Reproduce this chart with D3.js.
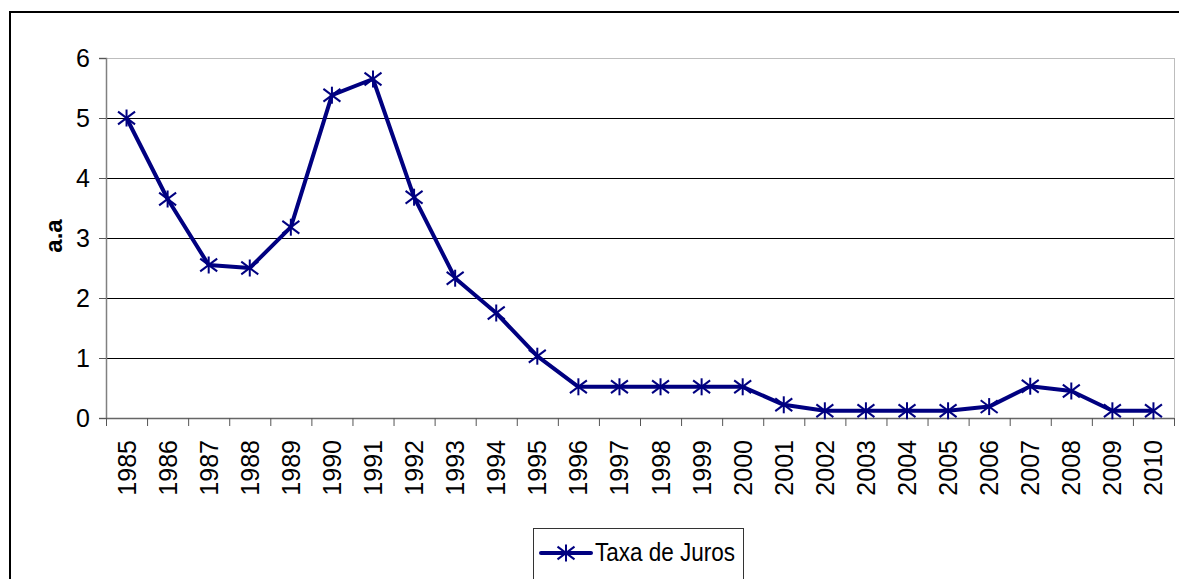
<!DOCTYPE html>
<html>
<head>
<meta charset="utf-8">
<script src="https://cdn.jsdelivr.net/npm/d3@7"></script>
<style>
  body { margin: 0; background: #fff; }
  svg { display: block; font-family: Arial, "Liberation Sans", sans-serif; }
</style>
</head>
<body>
<div id="chart"></div>
<script>
// data
const years = ["1985","1986","1987","1988","1989","1990","1991","1992","1993","1994","1995","1996","1997",
  "1998","1999","2000","2001","2002","2003","2004","2005","2006","2007","2008","2009","2010"];
const taxaJuros = [5.0, 3.65, 2.55, 2.5, 3.18, 5.38, 5.65, 3.68, 2.33, 1.75, 1.03, 0.52, 0.52,
  0.52, 0.52, 0.52, 0.22, 0.12, 0.12, 0.12, 0.12, 0.19, 0.53, 0.45, 0.12, 0.12];
const yTicks = [0, 1, 2, 3, 4, 5, 6];
const seriesName = "Taxa de Juros";

const W = 1179, H = 579;
const plot = { left: 106, right: 1174, top: 58, bottom: 418 };

const svg = d3.select("#chart").append("svg")
    .attr("width", W)
    .attr("height", H);

// outer chart border
svg.append("rect")
    .attr("x", 10).attr("y", 12)
    .attr("width", 1200).attr("height", 600)
    .attr("fill", "none")
    .attr("stroke", "#000")
    .attr("stroke-width", 2);

// SCALES
const x = d3.scaleBand()
    .domain(years)
    .range([plot.left, plot.right]);

const y = d3.scaleLinear()
    .domain([0, 6])
    .range([plot.bottom, plot.top]);

// gridlines
svg.append("g")
    .selectAll("line")
    .data(yTicks.filter(d => d > 0))
    .join("line")
    .attr("x1", plot.left).attr("x2", plot.right)
    .attr("y1", d => y(d) + 0.5).attr("y2", d => y(d) + 0.5)
    .attr("stroke", d => d === 6 ? "#bdbdbd" : "#000")
    .attr("stroke-width", 1);

// plot area right edge
svg.append("line")
    .attr("x1", plot.right + 0.5).attr("x2", plot.right + 0.5)
    .attr("y1", plot.top).attr("y2", plot.bottom)
    .attr("stroke", "#bdbdbd");

// AXES
const yAxis = svg.append("g")
    .attr("transform", "translate(" + plot.left + ",0)")
    .call(d3.axisLeft(y).tickValues(yTicks).tickSize(7).tickPadding(9).tickFormat(d3.format("d")));
yAxis.select(".domain").attr("stroke", "#808080").attr("stroke-width", 1.5);
yAxis.selectAll(".tick line").attr("stroke", "#555");
yAxis.selectAll(".tick text")
    .style("font-size", "25px")
    .attr("fill", "#000");

const xAxis = svg.append("g")
    .attr("transform", "translate(0," + plot.bottom + ")");
xAxis.append("line")
    .attr("x1", plot.left).attr("x2", plot.right)
    .attr("y1", 0.5).attr("y2", 0.5)
    .attr("stroke", "#666").attr("stroke-width", 1.5);
// ticks on category boundaries
xAxis.selectAll(".xtick")
    .data(years.concat(["end"]))
    .join("line")
    .attr("class", "xtick")
    .attr("x1", (d, i) => plot.left + i * x.step() + 0.5)
    .attr("x2", (d, i) => plot.left + i * x.step() + 0.5)
    .attr("y1", 0).attr("y2", 8)
    .attr("stroke", "#555");
xAxis.selectAll(".xlab")
    .data(years)
    .join("text")
    .attr("class", "xlab")
    .attr("transform", d => "translate(" + (x(d) + x.bandwidth() / 2) + ",22) rotate(-90)")
    .attr("dy", "0.36em")
    .attr("text-anchor", "end")
    .style("font-size", "25px")
    .text(d => d);

// y title
svg.append("text")
    .attr("transform", "translate(62,236) rotate(-90)")
    .attr("text-anchor", "middle")
    .style("font-size", "24px")
    .attr("font-weight", "bold")
    .text("a.a");

// LINE
const color = "#000080";
const line = d3.line()
    .x((d, i) => x(years[i]) + x.bandwidth() / 2)
    .y(d => y(d));

svg.append("path")
    .datum(taxaJuros)
    .attr("d", line)
    .attr("fill", "none")
    .attr("stroke", color)
    .attr("stroke-width", 4)
    .attr("stroke-linejoin", "round");

// asterisk markers
function star(g, size) {
    const r = size / 2;
    g.append("line").attr("x1", 0).attr("x2", 0).attr("y1", -r).attr("y2", r);
    g.append("line").attr("x1", -r).attr("x2", r).attr("y1", -r * 0.75).attr("y2", r * 0.75);
    g.append("line").attr("x1", -r).attr("x2", r).attr("y1", r * 0.75).attr("y2", -r * 0.75);
    g.attr("stroke", color).attr("stroke-width", 2);
}

svg.append("g")
    .selectAll("g")
    .data(taxaJuros)
    .join("g")
    .attr("transform", (d, i) => "translate(" + (x(years[i]) + x.bandwidth() / 2) + "," + y(d) + ")")
    .each(function () { star(d3.select(this), 17); });

// LEGEND
const legend = svg.append("g").attr("transform", "translate(533,528)");
legend.append("rect")
    .attr("x", 0.5).attr("y", 0.5)
    .attr("width", 210).attr("height", 60)
    .attr("fill", "#fff")
    .attr("stroke", "#333");
legend.append("line")
    .attr("x1", 8).attr("x2", 58)
    .attr("y1", 25).attr("y2", 25)
    .attr("stroke", color).attr("stroke-width", 4)
    .attr("stroke-linecap", "round");
star(legend.append("g").attr("transform", "translate(33,25)"), 17);
legend.append("text")
    .attr("x", 62).attr("y", 33)
    .style("font-size", "26px")
    .attr("textLength", 140)
    .attr("lengthAdjust", "spacingAndGlyphs")
    .text(seriesName);
</script>
</body>
</html>
